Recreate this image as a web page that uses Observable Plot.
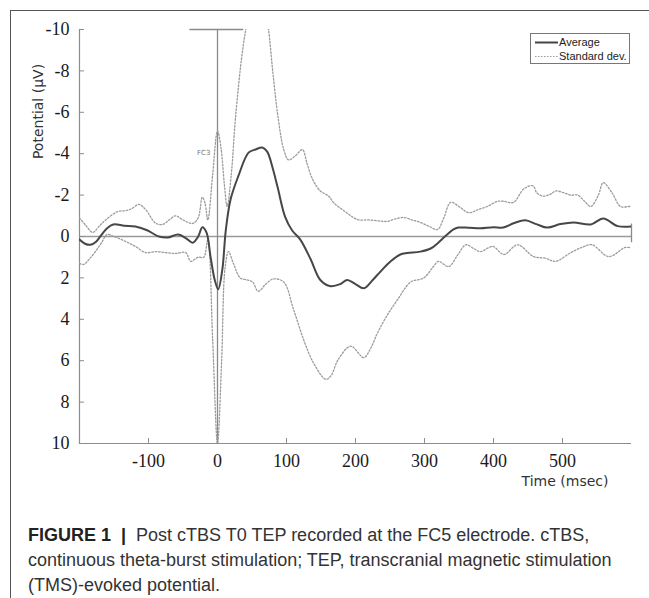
<!DOCTYPE html>
<html><head><meta charset="utf-8">
<script src="https://cdn.jsdelivr.net/npm/d3@7"></script>
<script src="https://cdn.jsdelivr.net/npm/@observablehq/plot@0.6"></script>
<style>
body{margin:0;background:#fff;width:649px;height:598px;position:relative;overflow:hidden;}
#frame{position:absolute;left:10px;top:10px;width:660px;height:620px;border-left:1.6px solid #555;border-top:1.6px solid #555;}
#chart{position:absolute;left:0;top:0;}
#legend{position:absolute;left:530px;top:33px;width:98px;height:29px;border:1px solid #777;background:#fff;font-family:"Liberation Sans",Arial,sans-serif;font-size:11px;color:#222;}
#legend .row{position:absolute;left:3px;height:13px;line-height:13px;white-space:nowrap;}
#legend svg{position:absolute;left:0;top:0;}
#legend span{position:absolute;left:25px;top:0;}
#caption{position:absolute;left:28px;top:523px;font-family:"Liberation Sans",Arial,sans-serif;font-size:18px;line-height:25px;color:#333;white-space:nowrap;}
#caption b{color:#222;}
</style>
</head><body>
<div id="frame"></div>
<div id="chart"></div>
<div id="legend">
  <div class="row" style="top:2px"><svg width="24" height="13"><line x1="1" y1="6.5" x2="24" y2="6.5" stroke="#444" stroke-width="2"/></svg><span>Average</span></div>
  <div class="row" style="top:16px"><svg width="24" height="13"><line x1="1" y1="6.5" x2="24" y2="6.5" stroke="#999" stroke-width="1.2" stroke-dasharray="1.5,1.5"/></svg><span>Standard dev.</span></div>
</div>
<div id="caption"><b>FIGURE 1 &nbsp;|&nbsp;</b> Post cTBS T0 TEP recorded at the FC5 electrode. cTBS,<br>continuous theta-burst stimulation; TEP, transcranial magnetic stimulation<br>(TMS)-evoked potential.</div>
<script>
const xTicks = [-100, 0, 100, 200, 300, 400, 500];
const yTicks = [-10, -8, -6, -4, -2, 0, 2, 4, 6, 8, 10];
const xDomain = [-200, 600];
const yDomain = [10, -10];
const pulseBar = [-40, 38];
const endMarker = [-0.6, 0.3];

const avgTime  = [-200,-192,-184,-176,-170,-160,-151,-135,-119,-102,-85,-72,-57,-45,-36,-28,-22,-16,-10,-4,1,7,12,19,30,45,55,65,72,80,87,98,108,120,135,149,164,178,188,200,212,225,236,251,265,275,294,309,320,328,342,349,365,381,400,414,430,446,462,478,497,516,541,559,580,600];
const avgValue = [0.15,0.35,0.4,0.25,0.0,-0.4,-0.58,-0.52,-0.48,-0.3,0.0,0.05,-0.1,0.1,0.3,0.0,-0.45,-0.2,1.0,2.1,2.55,1.6,-0.3,-1.8,-2.9,-4.05,-4.2,-4.3,-4.1,-3.3,-2.4,-0.95,-0.3,0.15,1.1,2.1,2.4,2.3,2.1,2.3,2.5,2.1,1.7,1.2,0.87,0.8,0.73,0.58,0.3,0.05,-0.34,-0.43,-0.42,-0.4,-0.45,-0.43,-0.65,-0.78,-0.6,-0.43,-0.6,-0.68,-0.58,-0.87,-0.5,-0.48];

const sdUpTime  = [-200,-190,-181,-170,-162,-145,-133,-124,-114,-104,-90,-80,-70,-61,-50,-36,-28,-22,-18,-14,-7,0,5,10,14,20,26,36,43,58,70,74,80,88,96,103,113,123,130,138,149,161,168,185,203,220,235,246,258,270,282,294,306,319,328,338,352,364,378,391,406,415,429,444,457,463,472,483,490,503,512,522,532,541,552,559,572,584,596,600];
const sdUpValue = [-0.9,-0.5,-0.2,-0.55,-0.8,-1.2,-1.25,-1.35,-1.55,-1.3,-0.65,-0.58,-0.8,-1.0,-0.8,-0.63,-0.9,-1.9,-1.6,-0.8,-3.0,-5.1,-4.3,-2.5,-1.45,-3.0,-5.7,-8.9,-10.3,-12.0,-10.8,-10.0,-8.0,-5.7,-4.2,-3.7,-3.9,-4.2,-3.5,-2.75,-2.2,-1.95,-1.65,-1.2,-0.82,-0.8,-0.75,-0.73,-0.85,-0.92,-0.8,-0.68,-0.5,-0.34,-0.9,-1.65,-1.4,-1.15,-1.3,-1.45,-1.7,-1.7,-1.65,-2.3,-2.45,-2.1,-1.95,-2.05,-2.2,-2.1,-2.0,-2.0,-1.7,-1.45,-2.0,-2.6,-2.1,-1.45,-1.45,-1.45];

const sdLoTime  = [-200,-194,-186,-177,-168,-160,-150,-133,-118,-104,-90,-75,-61,-46,-39,-33,-28,-20,-14,-7,0,6,11,16,23,33,43,51,59,70,81,96,110,125,139,157,165,174,193,212,222,232,246,261,280,299,313,320,335,348,360,372,381,399,415,435,458,475,490,512,530,543,567,591,600];
const sdLoValue = [1.3,1.35,1.1,0.73,0.3,-0.1,0.0,0.24,0.5,0.78,0.73,0.78,0.82,0.78,1.2,1.1,1.0,1.0,0.15,5.0,10.0,6.0,1.5,0.73,1.3,2.0,2.1,2.2,2.65,2.3,2.05,2.2,3.5,5.0,6.1,6.9,6.7,6.0,5.3,5.85,5.4,4.65,3.8,3.05,2.2,2.0,1.45,1.2,1.45,0.9,0.4,0.6,0.73,0.48,0.87,0.4,0.97,1.05,1.2,0.78,0.5,0.4,0.97,0.53,0.55];

const electrodeLabel = {text: "FC3", t: -16, v: -4.05};
const xTitle = "Time (msec)";
const yTitle = "Potential (µV)";

const avg = avgTime.map((t, i) => ({t, v: avgValue[i]}));
const sdUp = sdUpTime.map((t, i) => ({t, v: sdUpValue[i]}));
const sdLo = sdLoTime.map((t, i) => ({t, v: sdLoValue[i]}));

const axisColor = "#8c8c8c";
const serif = "'Liberation Serif', 'Times New Roman', serif";
const sans = "'DejaVu Sans', sans-serif";
const fmt = d => String(d);

const chart = Plot.plot({
  width: 649, height: 500,
  marginLeft: 79, marginRight: 18, marginTop: 29, marginBottom: 57,
  style: {background: "transparent", overflow: "visible"},
  x: {domain: xDomain},
  y: {domain: yDomain},
  marks: [
    Plot.ruleY([0], {stroke: "#9a9a9a", strokeWidth: 1.5}),
    Plot.ruleX([0], {stroke: "#8a8a8a", strokeWidth: 1.3}),
    Plot.ruleY([yDomain[1]], {x1: pulseBar[0], x2: pulseBar[1], stroke: "#8a8a8a", strokeWidth: 1.3}),
    Plot.ruleX([xDomain[1]], {y1: endMarker[0], y2: endMarker[1], stroke: "#8a8a8a", strokeWidth: 1.3}),
    Plot.ruleY([yDomain[0]], {stroke: axisColor, strokeWidth: 1.2}),
    Plot.ruleX([xDomain[0]], {stroke: axisColor, strokeWidth: 1.2}),
    Plot.axisX({ticks: xTicks, tickSize: -5, tickFormat: () => "", stroke: axisColor, label: null}),
    Plot.axisX({ticks: xTicks, tickSize: 0, tickPadding: 11, tickFormat: fmt, fontFamily: serif, fontSize: 18, color: "#1a1a1a", label: null}),
    Plot.axisY({ticks: yTicks, tickSize: -5, tickFormat: () => "", stroke: axisColor, label: null}),
    Plot.axisY({ticks: yTicks, tickSize: 0, tickPadding: 10, tickFormat: fmt, fontFamily: serif, fontSize: 18, color: "#1a1a1a", label: null}),
    Plot.line(sdUp, {x: "t", y: "v", curve: "catmull-rom", stroke: "#9c9c9c", strokeWidth: 1.3, strokeDasharray: "1.6,1.8", clip: true}),
    Plot.line(sdLo, {x: "t", y: "v", curve: "catmull-rom", stroke: "#9c9c9c", strokeWidth: 1.3, strokeDasharray: "1.6,1.8", clip: true}),
    Plot.line(avg, {x: "t", y: "v", curve: "catmull-rom", stroke: "#474747", strokeWidth: 2, clip: true}),
    Plot.text([electrodeLabel], {x: "t", y: "v", text: "text", fontSize: 7, fill: "#777", fontFamily: sans, textAnchor: "end", dx: 4}),
    Plot.text([yTitle], {frameAnchor: "top-left", dx: -41, dy: 82, rotate: -90, textAnchor: "middle", lineAnchor: "middle", fontFamily: sans, fontSize: 14, fill: "#333"}),
    Plot.text([xTitle], {frameAnchor: "bottom-right", dx: -23, dy: 42, textAnchor: "end", fontFamily: sans, fontSize: 14, fill: "#333"})
  ]
});
document.getElementById("chart").appendChild(chart);
</script>
</body></html>
